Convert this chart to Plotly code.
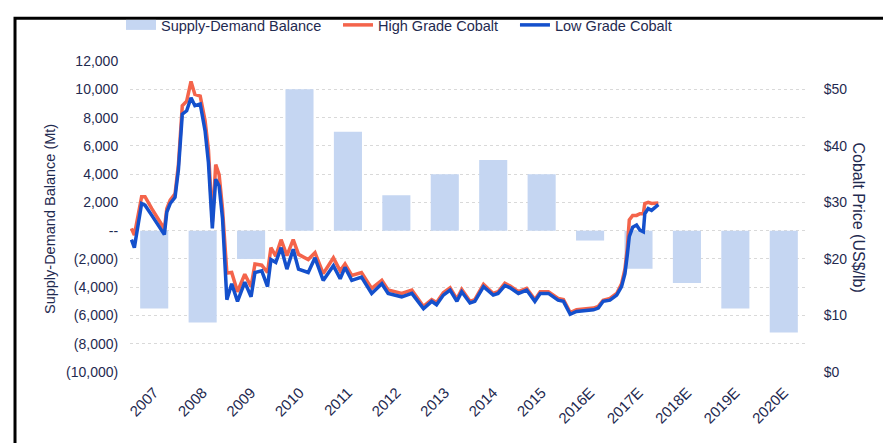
import plotly.graph_objects as go

years = ["2007", "2008", "2009", "2010", "2011", "2012", "2013", "2014", "2015",
         "2016E", "2017E", "2018E", "2019E", "2020E"]
balance = [-5500, -6500, -2000, 10000, 7000, 2500, 4000, 5000, 4000,
           -700, -2700, -3700, -5500, -7200]

# price series, decimal year vs US$/lb
dates = [2007.03, 2007.09, 2007.24, 2007.31, 2007.45, 2007.58, 2007.71, 2007.76, 2007.83, 2007.93,
         2008.00, 2008.08, 2008.17, 2008.26, 2008.34, 2008.45, 2008.55, 2008.62, 2008.70, 2008.77,
         2008.84, 2008.91, 2009.00, 2009.10, 2009.22, 2009.37, 2009.50, 2009.58, 2009.72, 2009.84,
         2009.91, 2010.01, 2010.12, 2010.24, 2010.37, 2010.48, 2010.68, 2010.82, 2010.99, 2011.20,
         2011.34, 2011.44, 2011.58, 2011.78, 2011.99, 2012.20, 2012.33, 2012.61, 2012.82, 2013.06,
         2013.23, 2013.33, 2013.47, 2013.61, 2013.75, 2013.85, 2014.02, 2014.12, 2014.30, 2014.50,
         2014.60, 2014.74, 2014.85, 2015.02, 2015.19, 2015.36, 2015.47, 2015.64, 2015.84, 2015.95,
         2016.09, 2016.22, 2016.57, 2016.67, 2016.77, 2016.91, 2017.05, 2017.15, 2017.22, 2017.27,
         2017.31, 2017.38, 2017.46, 2017.53, 2017.60, 2017.63, 2017.70, 2017.77, 2017.84, 2017.91]
low_grade = [23.4, 22.0, 29.8, 29.5, 27.7, 26.0, 24.3, 28.3, 29.8, 30.9,
             35.8, 45.6, 46.2, 48.5, 47.1, 47.4, 42.7, 37.0, 25.4, 34.1,
             32.9, 27.2, 12.8, 15.6, 12.5, 15.9, 13.3, 17.6, 17.9, 15.1,
             19.9, 19.4, 22.0, 18.2, 21.7, 18.2, 17.6, 20.2, 16.2, 18.8,
             16.5, 18.5, 16.2, 16.8, 13.9, 15.6, 13.9, 13.3, 13.9, 11.2,
             12.5, 11.9, 13.6, 14.5, 12.5, 14.2, 12.2, 12.5, 15.1, 13.6,
             13.9, 15.3, 14.9, 13.9, 14.5, 12.5, 13.9, 13.9, 12.7, 12.5,
             10.2, 10.7, 11.0, 11.3, 12.5, 12.7, 13.6, 15.1, 17.4, 20.8,
             24.0, 25.6, 26.0, 25.1, 24.8, 28.0, 28.9, 28.6, 29.2, 29.6]
high_grade = [25.4, 24.2, 31.0, 31.0, 28.9, 27.2, 25.3, 28.9, 30.4, 31.5,
              36.7, 47.1, 47.9, 51.4, 49.1, 48.8, 44.5, 39.3, 26.5, 36.7,
              34.9, 28.9, 17.5, 17.6, 14.2, 17.3, 15.1, 19.1, 18.9, 17.6,
              22.0, 20.5, 23.4, 20.6, 23.4, 20.8, 19.9, 21.1, 17.4, 20.2,
              17.9, 19.1, 17.1, 17.6, 14.8, 16.2, 14.5, 13.9, 14.5, 11.6,
              12.8, 12.3, 14.0, 14.9, 12.9, 14.6, 12.5, 12.8, 15.5, 13.9,
              14.2, 15.7, 15.2, 14.2, 14.8, 12.8, 14.2, 14.2, 13.0, 12.8,
              10.5, 11.0, 11.3, 11.6, 12.7, 13.0, 13.9, 15.6, 18.2, 22.0,
              26.9, 27.7, 27.7, 28.0, 28.0, 29.8, 30.0, 29.8, 29.9, 29.9]

left_ticks = [12000, 10000, 8000, 6000, 4000, 2000, 0, -2000, -4000, -6000, -8000, -10000]
left_labels = ["12,000", "10,000", "8,000", "6,000", "4,000", "2,000", "--",
               "(2,000)", "(4,000)", "(6,000)", "(8,000)", "(10,000)"]
right_ticks = [0, 10, 20, 30, 40, 50]
right_labels = ["$0", "$10", "$20", "$30", "$40", "$50"]

navy = "#1f2a50"
font = "Liberation Sans"
bar_color = "#c5d6f2"

fig = go.Figure()
fig.add_trace(go.Bar(x=years, y=balance, name="Supply-Demand Balance", showlegend=False,
                     marker=dict(color=bar_color, line=dict(width=0))))
# legend swatch for the bars (wide block like the original)
fig.add_trace(go.Scatter(x=[None], y=[None], name="Supply-Demand Balance", mode="lines",
                         line=dict(color=bar_color, width=11), legend="legend"))
fig.add_trace(go.Scatter(x=dates, y=high_grade, name="High Grade Cobalt", mode="lines",
                         line=dict(color="#f4644b", width=3.5), xaxis="x2", yaxis="y2",
                         legend="legend2"))
fig.add_trace(go.Scatter(x=dates, y=low_grade, name="Low Grade Cobalt", mode="lines",
                         line=dict(color="#1450cc", width=3.5), xaxis="x2", yaxis="y2",
                         legend="legend3"))

leg = dict(orientation="h", yref="container", y=0.961, xanchor="left", yanchor="middle",
           font=dict(size=14.5, color=navy), bgcolor="rgba(0,0,0,0)")

fig.update_layout(
    width=883, height=435,
    margin=dict(l=122, r=83, t=45, b=71),
    paper_bgcolor="white", plot_bgcolor="white",
    font=dict(family=font, size=14, color=navy),
    bargap=0.42,
    showlegend=True,
    legend=dict(leg, x=-0.0133),
    legend2=dict(leg, x=0.3068),
    legend3=dict(leg, x=0.5678),
    xaxis=dict(type="category", range=[-0.5, 13.5], tickangle=-45, showgrid=False,
               zeroline=False, showline=False, ticks="outside", ticklen=5,
               tickcolor="rgba(0,0,0,0)", tickfont=dict(size=15, color=navy)),
    xaxis2=dict(overlaying="x", range=[2007, 2021], visible=False),
    yaxis=dict(range=[-10000, 12000], tickvals=left_ticks, ticktext=left_labels,
               showgrid=True, gridcolor="#d9d9d9", griddash="dot", gridwidth=1,
               zeroline=False, ticks="outside", ticklen=8, tickcolor="rgba(0,0,0,0)",
               tickfont=dict(size=14, color=navy)),
    yaxis2=dict(overlaying="y", side="right", range=[0, 55], tickvals=right_ticks,
                ticktext=right_labels, showgrid=False, zeroline=False, ticks="outside",
                ticklen=12, tickcolor="rgba(0,0,0,0)", tickfont=dict(size=14, color=navy)),
    annotations=[
        dict(text="Supply-Demand Balance (Mt)", xref="paper", yref="paper", x=-0.118, y=0.492,
             xanchor="center", yanchor="middle", textangle=-90, showarrow=False,
             font=dict(size=14.5, color=navy)),
        dict(text="Cobalt Price (US$/lb)", xref="paper", yref="paper", x=1.0752, y=0.497,
             xanchor="center", yanchor="middle", textangle=90, showarrow=False,
             font=dict(size=16, color=navy)),
    ],
    shapes=[dict(type="rect", xref="paper", yref="paper", x0=-0.1696, x1=1.1165, y0=-0.3, y1=1.138,
                 line=dict(color="black", width=3), layer="above")],
)

fig.write_html("out.html")
